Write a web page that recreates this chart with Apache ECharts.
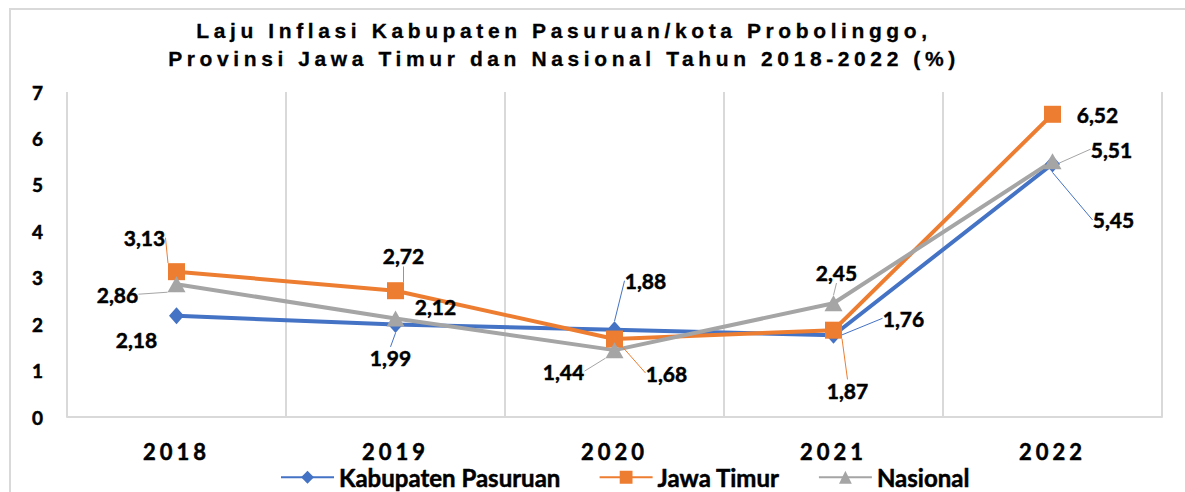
<!DOCTYPE html>
<html>
<head>
<meta charset="utf-8">
<script src="https://cdn.jsdelivr.net/npm/echarts@6/dist/echarts.min.js"></script>
<style>
html, body { margin: 0; padding: 0; background: #fff; }
#chartmain { width: 1185px; height: 492px; }
</style>
</head>
<body>
<div id="chartmain"></div>
<script>
// data
var years = ['2018', '2019', '2020', '2021', '2022'];
var kabPasuruan = [2.18, 1.99, 1.88, 1.76, 5.45];
var jawaTimur = [3.13, 2.72, 1.68, 1.87, 6.52];
var nasional = [2.86, 2.12, 1.44, 2.45, 5.51];
var yTicks = [0, 1, 2, 3, 4, 5, 6, 7];

var judulBaris = [
	'Laju Inflasi Kabupaten Pasuruan/kota Probolinggo,',
	'Provinsi Jawa Timur dan Nasional Tahun 2018-2022 (%)'
];

// label offsets (dx, dy from the marker) and labels without leader line
var geserKab = [[-40, 24], [-5, 33], [31, -49], [70, -17], [61, 56]];
var geserJatim = [[-32, -34], [8, -35], [52, 34], [14, 60], [45, 0]];
var geserNas = [[-59, 10], [40, -12], [-51, 21], [3, -31], [59, -12]];
var tanpaGaris = { kab: [0], jatim: [4], nas: [1] };

var hurufLabel = 'Lato';
// a thin outline makes Lato bold look as heavy as the original
var tebal = { fontFamily: hurufLabel, fontWeight: 'bold', color: '#000', textBorderColor: '#000', textBorderWidth: 0.5 };

function gaya(extra) {
	var o = {};
	for (var k in tebal) o[k] = tebal[k];
	for (var k2 in extra) o[k2] = extra[k2];
	return o;
}

function buatData(values, tanpa) {
	var hasil = [];
	for (var i = 0; i < values.length; i++) {
		var item = { value: values[i] };
		if (tanpa.indexOf(i) >= 0) {
			item.labelLine = { show: false };
		}
		hasil.push(item);
	}
	return hasil;
}

function buatSeri(nama, values, warna, simbol, ukuran, geser, tanpa) {
	return {
		name: nama,
		type: 'line',
		data: buatData(values, tanpa),
		symbol: simbol,
		symbolSize: ukuran,
		lineStyle: { color: warna, width: 4 },
		itemStyle: { color: warna },
		label: gaya({
			show: true,
			position: 'inside',
			fontSize: 21,
			formatter: function (p) {
				return p.value.toFixed(2).replace('.', ',');
			}
		}),
		labelLine: {
			show: true,
			lineStyle: { color: warna, width: 1 }
		},
		labelLayout: function (p) {
			var o = geser[p.dataIndex];
			return { dx: o[0], dy: o[1] };
		}
	};
}

var option = {
	animation: false,
	title: {
		text: judulBaris.join('\n'),
		left: 564,
		top: 16,
		padding: 0,
		textAlign: 'center',
		textStyle: {
			fontFamily: 'Liberation Sans',
			fontWeight: 'bold',
			fontSize: 21,
			lineHeight: 28,
			color: '#000',
			textBorderColor: '#000',
			textBorderWidth: 0.3
		}
	},
	graphic: [{
		type: 'rect',
		shape: { x: 10, y: 9, width: 1200, height: 500 },
		style: { fill: 'none', stroke: '#d9d9d9', lineWidth: 2 },
		silent: true
	}],
	legend: {
		left: 280,
		top: 465,
		padding: 0,
		itemWidth: 53,
		itemHeight: 16,
		itemGap: 38,
		textStyle: gaya({ fontSize: 24, lineHeight: 22 }),
		data: ['Kabupaten Pasuruan', 'Jawa Timur', 'Nasional']
	},
	grid: { left: 67, right: 23, top: 92, bottom: 75 },
	xAxis: {
		type: 'category',
		data: years,
		boundaryGap: true,
		axisLine: { lineStyle: { color: '#d9d9d9', width: 2 } },
		axisTick: { show: false },
		splitLine: { show: true, lineStyle: { color: '#d9d9d9', width: 2 } },
		axisLabel: gaya({ margin: 24, fontSize: 22, lineHeight: 20 })
	},
	yAxis: {
		type: 'value',
		min: yTicks[0],
		max: yTicks[yTicks.length - 1],
		interval: 1,
		axisLine: { show: false },
		axisTick: { show: false },
		splitLine: { show: false },
		axisLabel: gaya({ margin: 24, fontSize: 19 })
	},
	series: [
		buatSeri('Kabupaten Pasuruan', kabPasuruan, '#4472C4', 'diamond', [15, 17], geserKab, tanpaGaris.kab),
		buatSeri('Jawa Timur', jawaTimur, '#ED7D31', 'rect', 17, geserJatim, tanpaGaris.jatim),
		buatSeri('Nasional', nasional, '#A5A5A5', 'triangle', [18, 16], geserNas, tanpaGaris.nas)
	]
};

// spacing between letters for the title and the year labels
function rapikanHuruf() {
	var teks = document.querySelectorAll('#chartmain text');
	for (var i = 0; i < teks.length; i++) {
		var s = teks[i].textContent;
		if (judulBaris.indexOf(s) >= 0) {
			teks[i].setAttribute('letter-spacing', '4.6');
		} else if (years.indexOf(s) >= 0) {
			teks[i].setAttribute('letter-spacing', '4');
		}
	}
}

var myChart = echarts.init(document.getElementById('chartmain'), null, { renderer: 'svg' });
myChart.on('finished', rapikanHuruf);
myChart.setOption(option);
rapikanHuruf();
</script>
</body>
</html>
